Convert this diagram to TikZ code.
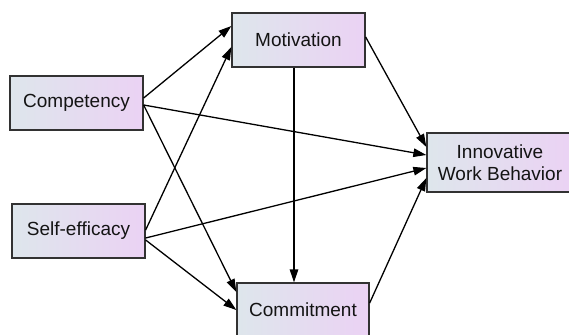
\documentclass[tikz,border=0pt]{standalone}
\usepackage{fontspec}
\setmainfont{Liberation Sans}
\usetikzlibrary{arrows.meta}
\definecolor{boxL}{RGB}{222,230,236}
\definecolor{boxR}{RGB}{235,210,244}
\definecolor{edge}{RGB}{50,50,50}
\definecolor{txt}{RGB}{20,20,20}
\tikzset{
  var/.style={draw=edge, line width=1.3pt, left color=boxL, right color=boxR,
    minimum width=133pt, minimum height=54pt, inner sep=0pt, align=center,
    text=txt, font=\fontsize{19}{22}\selectfont},
  arr/.style={draw=black, line width=1.3pt, -{Triangle[length=13pt,width=8.5pt]}}
}
\begin{document}
\begin{tikzpicture}[x=1pt,y=-1pt]
\useasboundingbox (0,0) rectangle (569,334);
\node[var] (comp) at (76.5,103) {Competency};
\node[var] (mot) at (298.5,40) {Motivation};
\node[var] (self) at (78.5,231) {Self-efficacy};
\node[var, minimum width=132pt] (commit) at (303,310) {Commitment};
\node[var, minimum width=146pt, minimum height=59pt] (iwb) at (500,162.5) {Innovative\\Work Behavior};
\draw[arr] ([yshift=5pt]comp.east) -- ([yshift=14pt]mot.west);
\draw[arr] ([yshift=1pt]self.east) -- ([yshift=-7pt]mot.west);
\draw[arr] ([yshift=-2pt]comp.east) -- ([yshift=18pt]commit.west);
\draw[arr] ([yshift=-9pt]self.east) -- (commit.west);
\draw[arr] ([yshift=-2pt]comp.east) -- ([yshift=7.5pt]iwb.west);
\draw[arr] ([yshift=-7pt]self.east) -- ([yshift=-5.5pt]iwb.west);
\draw[arr] ([yshift=3pt]mot.east) -- ([yshift=15.5pt]iwb.west);
\draw[arr] ([xshift=-4.5pt]mot.south) -- ([xshift=-9pt]commit.north);
\draw[arr] ([yshift=7pt]commit.east) -- ([yshift=-15.5pt]iwb.west);
\end{tikzpicture}
\end{document}
